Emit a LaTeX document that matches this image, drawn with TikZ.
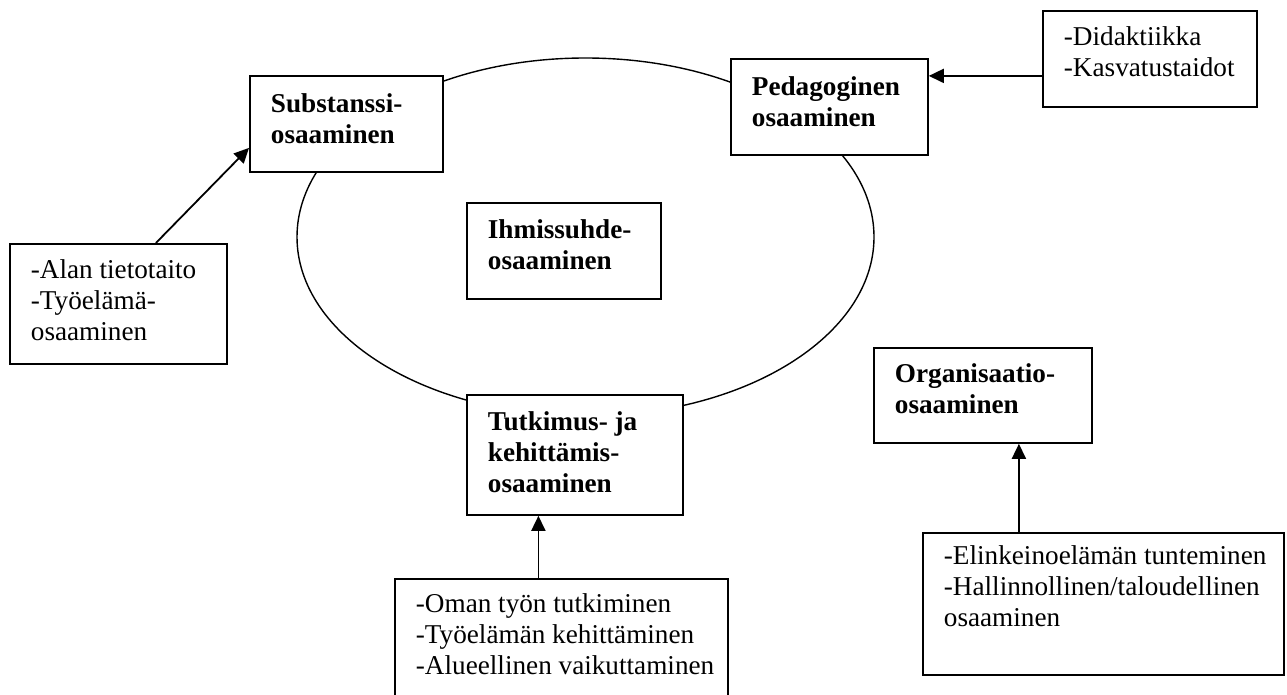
\documentclass[tikz,border=0pt]{standalone}
\usepackage{fontspec}
\setmainfont{Liberation Serif}
\usetikzlibrary{arrows.meta}
\newcommand{\bxt}[4]{\parbox[t][#2][t]{#1}{\raggedright\leftskip=21pt\relax\rule{0pt}{#3}#4}}
\tikzset{
  box/.style={draw, line width=1.8pt, fill=white, inner sep=0pt, anchor=north west,
    font=\fontsize{27.2}{30.6}\selectfont},
  arr/.style={line width=1.8pt, -{Triangle[length=15pt,width=14pt]}},
}
\begin{document}
\begin{tikzpicture}[x=1pt,y=-1pt]
\useasboundingbox (0,0) rectangle (1287,695);
\clip (0,0) rectangle (1287,695);
\draw[line width=1.4pt] (585.5,237) ellipse [x radius=288.5, y radius=179];
\node[box] (sub) at (249,75) {\bxt{193pt}{96pt}{37pt}{\textbf{Substanssi-\\osaaminen}}};
\node[box] (ped) at (730,58) {\bxt{197pt}{96pt}{37pt}{\textbf{Pedagoginen\\osaaminen}}};
\node[box] (ihm) at (466,202) {\bxt{194pt}{96pt}{36pt}{\textbf{Ihmissuhde-\\osaaminen}}};
\node[box] (tut) at (466,394) {\bxt{216pt}{120pt}{36pt}{\textbf{Tutkimus- ja\\kehittämis-\\osaaminen}}};
\node[box] (org) at (873,347) {\bxt{218pt}{95pt}{35pt}{\textbf{Organisaatio-\\osaaminen}}};
\node[box] (did) at (1042,10) {\bxt{214pt}{96pt}{35pt}{-Didaktiikka\\-Kasvatustaidot}};
\node[box] (alan) at (9,243) {\bxt{217pt}{120pt}{35pt}{-Alan tietotaito\\-Työelämä-\\osaaminen}};
\node[box] (oman) at (394,578) {\bxt{333pt}{125pt}{34pt}{-Oman työn tutkiminen\\-Työelämän kehittäminen\\-Alueellinen vaikuttaminen}};
\node[box] (elin) at (922,532) {\bxt{361pt}{142pt}{32pt}{-Elinkeinoelämän tunteminen\\-Hallinnollinen/taloudellinen\\osaaminen}};
\coordinate (a1) at ([yshift=-17pt]did.west);
\draw[arr] (a1) -- (a1 -| ped.east);
\draw[arr] ([xshift=37.5pt]alan.north) -- ([yshift=-24pt]sub.west);
\coordinate (b1) at ([xshift=-23pt]oman.north);
\draw[arr] (b1) -- (b1 |- tut.south);
\coordinate (c1) at ([xshift=-84.5pt]elin.north);
\draw[arr] (c1) -- (c1 |- org.south);
\end{tikzpicture}
\end{document}
